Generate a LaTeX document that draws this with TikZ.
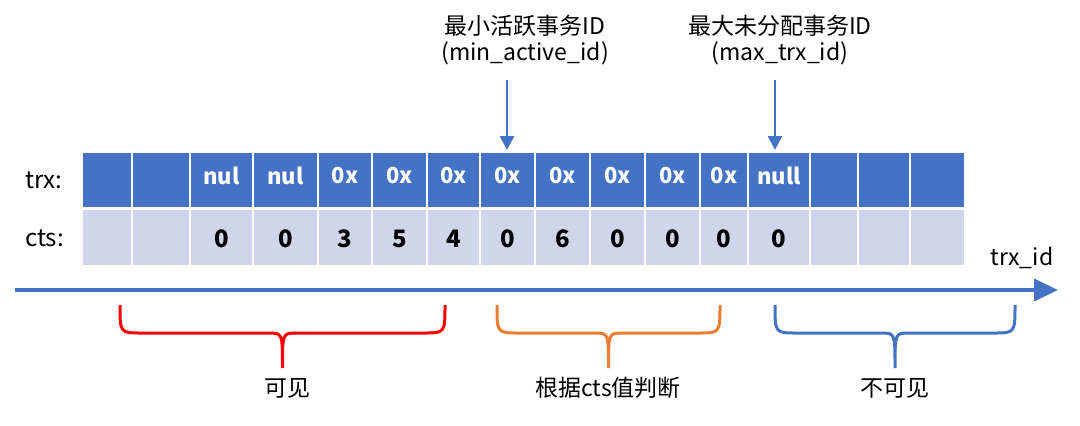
\documentclass[tikz,border=0pt]{standalone}
\usepackage{fontspec}
\setmainfont{Noto Sans CJK SC}
\usetikzlibrary{arrows.meta}
\definecolor{trxblue}{HTML}{4472C4}
\definecolor{ctsblue}{HTML}{CFD5EA}
\definecolor{braceorange}{HTML}{ED7D31}
\tikzset{
  trxcell/.style={draw=white, line width=1pt, fill=trxblue, text=white, font=\bfseries\fontsize{11}{12}\selectfont},
  ctscell/.style={draw=white, line width=1pt, fill=ctsblue, text=black, font=\bfseries\fontsize{12}{13}\selectfont},
  rowlabel/.style={font=\fontsize{12}{13}\selectfont, anchor=west},
  note/.style={font=\fontsize{11.5}{13}\selectfont, align=center},
  marker/.style={trxblue, line width=1.3pt, -{Triangle[length=7pt,width=7pt]}}
}
\begin{document}
\begin{tikzpicture}[x=0.5pt, y=-0.5pt]
  \useasboundingbox (0,0) rectangle (1080,425);
  \node [rowlabel] (trxlabel) at (18,180) {trx:};
  \node [rowlabel] (ctslabel) at (18,238) {cts:};
  % cells
  \foreach \xa/\xb/\t/\c [count=\i] in {82/132//, 132/190//, 190/253/nul/0, 253/318/nul/0,
      318/372/0x/3, 372/427/0x/5, 427/480/0x/4, 480/535/0x/0, 535/590/0x/6, 590/645/0x/0,
      645/700/0x/0, 700/748/0x/0, 748/810/null/0, 810/858//, 858/910//, 910/965//} {
    \path [trxcell] (\xa,152) rectangle (\xb,208);
    \node [font=\bfseries\fontsize{11}{12}\selectfont, text=white] (trx\i) at ({(\xa+\xb)/2},176) {\t};
    \path [ctscell] (\xa,209) rectangle (\xb,266);
    \node [font=\bfseries\fontsize{12}{13}\selectfont] (cts\i) at ({(\xa+\xb)/2},239) {\c};
  }
  % axis
  \coordinate (axisstart) at (15,290);
  \coordinate (axisend) at (1058,290);
  \draw [trxblue, line width=2pt, -{Triangle[length=12pt,width=11pt]}] (axisstart) -- (axisend);
  \node [font=\fontsize{11.5}{13}\selectfont] (axislabel) at (1022,258) {trx\_id};
  % markers
  \node [note] (minid) at (525,40) {最小活跃事务ID\\(min\_active\_id)};
  \node [note] (maxid) at (780,40) {最大未分配事务ID\\(max\_trx\_id)};
  \draw [marker] (507,80) -- (507,150);
  \draw [marker] (775,80) -- (775,150);
  % braces
  \foreach \xa/\xb/\col/\name in {120/445/red/visible, 497/720/braceorange/judge, 775/1015/trxblue/invisible} {
    \draw [\col, line width=1.5pt]
      (\xa,305) .. controls (\xa,333) .. (\xa+22,333) -- ({(\xa+\xb)/2-14},333)
      .. controls ({(\xa+\xb)/2},333) .. ({(\xa+\xb)/2},368)
      .. controls ({(\xa+\xb)/2},333) .. ({(\xa+\xb)/2+14},333) -- (\xb-22,333)
      .. controls (\xb,333) .. (\xb,305);
  }
  \node [note] (visible) at (287,388) {可见};
  \node [note] (judge) at (608,388) {根据cts值判断};
  \node [note] (invisible) at (895,388) {不可见};
\end{tikzpicture}
\end{document}
